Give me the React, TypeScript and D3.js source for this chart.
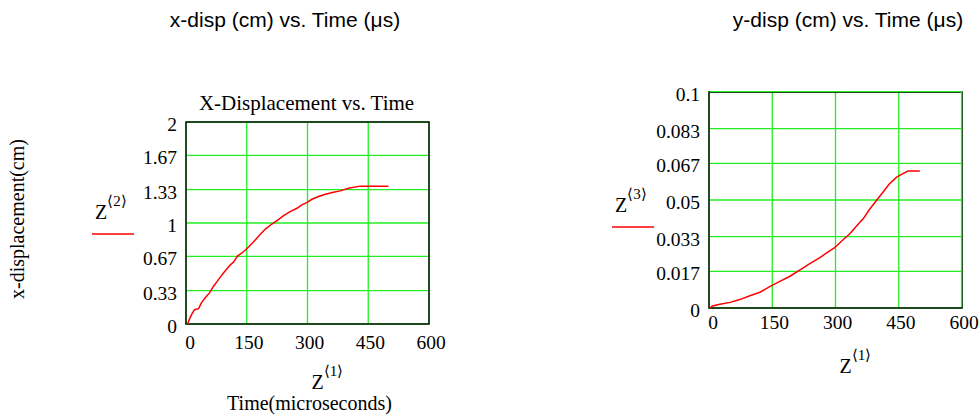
import * as d3 from 'd3';

// time in microseconds (shared column Z<1>)
const xTicks = [0, 150, 300, 450, 600];

// x-displacement (cm), column Z<2>
const xDispTime = [4, 9, 15, 21, 31, 38, 48, 58, 68, 76, 85, 95, 109, 118, 127, 142, 155, 167, 183, 196, 212, 229, 241, 257, 274, 286, 298, 311, 327, 344, 364, 381, 401, 430, 500];
const xDispValue = [0, 0.053, 0.103, 0.142, 0.152, 0.209, 0.262, 0.308, 0.374, 0.417, 0.467, 0.517, 0.583, 0.616, 0.672, 0.715, 0.765, 0.815, 0.887, 0.94, 0.99, 1.036, 1.073, 1.113, 1.146, 1.179, 1.202, 1.235, 1.262, 1.285, 1.305, 1.318, 1.344, 1.365, 1.365];
const xDispTicks = [0, 0.33, 0.67, 1, 1.33, 1.67, 2];

// y-displacement (cm), column Z<3>
const yDispTime = [2, 8, 26, 50, 73, 97, 121, 145, 168, 192, 216, 239, 263, 279, 298, 318, 334, 350, 366, 381, 397, 413, 427, 445, 460, 472, 500];
const yDispValue = [0, 0.0009, 0.0017, 0.0026, 0.0039, 0.0057, 0.0073, 0.01, 0.0123, 0.0147, 0.0177, 0.0205, 0.0233, 0.0255, 0.0279, 0.0316, 0.0344, 0.038, 0.0414, 0.0457, 0.0498, 0.0537, 0.0573, 0.0606, 0.0622, 0.0634, 0.0634];
const yDispTicks = [0, 0.017, 0.033, 0.05, 0.067, 0.083, 0.1];

const serif = {fontFamily: "'Liberation Serif', 'Times New Roman', Times, serif"};
const sans = {fontFamily: "'Liberation Sans', Arial, Helvetica, sans-serif"};
const gridColor = '#22ee22';

interface IPanel {
    left: number; right: number; top: number; bottom: number;
    times: number[]; values: number[];
    yTicks: number[]; yMax: number;
    col: number;
    legendX: number; legendY: number;
    xLabelGap: number;
    gridOnTop?: boolean;
    title?: string; xTitle?: string;
}

const Zlabel = ({x, y, n}: {x: number; y: number; n: number}) => (
    <text x={x} y={y} style={serif} fontSize={20}>
        Z<tspan dy={-13} fontSize={15}>{'\u27E8' + n + '\u27E9'}</tspan>
    </text>
);

const Panel = (props: IPanel) => {
    const {left, right, top, bottom, times, values, yTicks, yMax, col} = props;
    const x = d3.scaleLinear().domain([0, 600]).range([left, right]);
    const y = d3.scaleLinear().domain([0, yMax]).range([bottom, top]);
    const pts = times.map((t, i) => [t, values[i]] as [number, number]);
    const line = d3.line<[number, number]>().x(d => x(d[0])).y(d => y(d[1]));

    return (
        <g>
            {xTicks.map(t => (
                <line key={'gx' + t} x1={x(t)} x2={x(t)} y1={top} y2={bottom} stroke={gridColor} strokeWidth={1.3}/>
            ))}
            {yTicks.map(t => (
                <line key={'gy' + t} x1={left} x2={right} y1={y(t)} y2={y(t)} stroke={gridColor} strokeWidth={1.3}/>
            ))}
            <rect x={left} y={top} width={right - left} height={bottom - top} fill="none" stroke="#102010" strokeWidth={1.6}/>
            {props.gridOnTop && (
                <g stroke={gridColor} strokeWidth={1.2}>
                    <line x1={left + 1} x2={right} y1={top - 0.5} y2={top - 0.5}/>
                    <line x1={right - 0.5} x2={right - 0.5} y1={top} y2={bottom - 1}/>
                </g>
            )}
            <path d={line(pts) || ''} fill="none" stroke="#ff0000" strokeWidth={1.5}/>
            {xTicks.map(t => (
                <text key={'tx' + t} x={x(t) + (t === 0 ? 4 : 2)} y={bottom + props.xLabelGap} textAnchor="middle"
                      style={serif} fontSize={19.5}>{t}</text>
            ))}
            {yTicks.map(t => (
                <text key={'ty' + t} x={left - 9} y={y(t) + 9} textAnchor="end"
                      style={serif} fontSize={19.5}>{String(t)}</text>
            ))}
            {props.title && (
                <text x={(left + right) / 2 - 1} y={top - 12} textAnchor="middle" style={serif} fontSize={21}>{props.title}</text>
            )}
            <Zlabel x={props.legendX} y={props.legendY} n={col}/>
            <line x1={props.legendX - 3} x2={props.legendX + 39} y1={props.legendY + 15} y2={props.legendY + 15}
                  stroke="#ff0000" strokeWidth={1.5}/>
            <Zlabel x={(left + right) / 2 + 4} y={bottom + 65} n={1}/>
            {props.xTitle && (
                <text x={(left + right) / 2 + 2} y={bottom + 86} textAnchor="middle" style={serif} fontSize={20}>{props.xTitle}</text>
            )}
        </g>
    );
};

const App = () => {
    return (
        <svg width={979} height={416} style={{position: 'absolute', left: 0, top: 0, background: '#fff'}}>
            <text x={285} y={27} textAnchor="middle" style={sans} fontSize={21}>x-disp (cm) vs. Time ({'\u03BC'}s)</text>
            <text x={848} y={27} textAnchor="middle" style={sans} fontSize={21}>y-disp (cm) vs. Time ({'\u03BC'}s)</text>
            <text transform="translate(24,219) rotate(-90)" textAnchor="middle" style={serif} fontSize={20}>x-displacement(cm)</text>
            <Panel left={186} right={429} top={122} bottom={324}
                   times={xDispTime} values={xDispValue} yTicks={xDispTicks} yMax={2} col={2}
                   legendX={95} legendY={219} xLabelGap={25}
                   title="X-Displacement vs. Time" xTitle="Time(microseconds)"/>
            <Panel left={709} right={962} top={92} bottom={308}
                   times={yDispTime} values={yDispValue} yTicks={yDispTicks} yMax={0.1} col={3}
                   legendX={615} legendY={212} xLabelGap={21} gridOnTop/>
        </svg>
    );
};

export default App;
